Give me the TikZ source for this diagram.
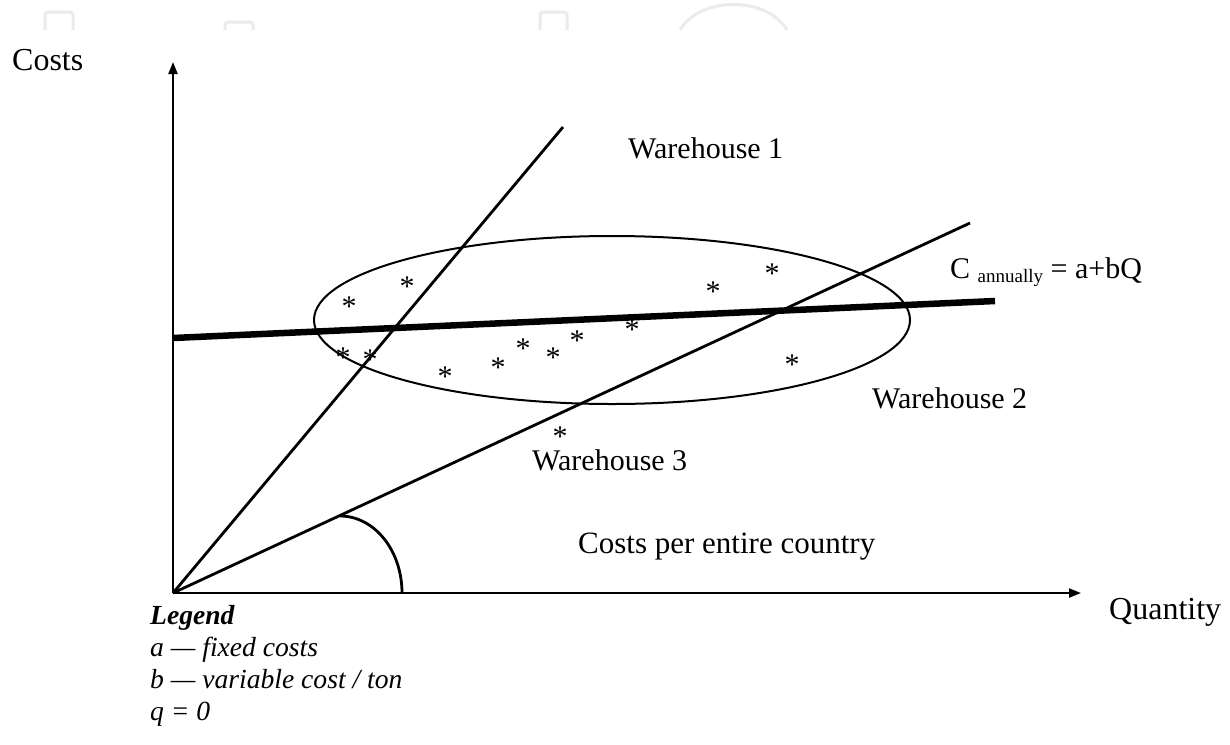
\documentclass[tikz,border=0pt]{standalone}
\usepackage{fontspec}
\setmainfont{Liberation Serif}
\usetikzlibrary{arrows.meta}
\definecolor{faint}{HTML}{EBEBEB}
\begin{document}
\begin{tikzpicture}[x=1pt,y=-1pt,
  axis/.style={line width=2.2pt,-{Triangle[length=12pt,width=9pt]}},
  wline/.style={line width=2.8pt},
  fixline/.style={line width=6.5pt},
  txt/.style={inner sep=0pt,anchor=base west,font=\fontsize{30}{36}\selectfont},
  axlbl/.style={inner sep=0pt,anchor=base west,font=\fontsize{32}{38}\selectfont},
  leg/.style={inner sep=0pt,anchor=base west,font=\fontsize{27.6}{33}\selectfont\itshape},
  datum/.style={inner sep=0pt,anchor=center,font=\fontsize{30}{36}\selectfont}]
\useasboundingbox (0,0) rectangle (1230,744);
\fill[white] (0,0) rectangle (1230,744);

% faint marks along the top edge
\draw[faint,line width=3pt,rounded corners=3pt] (45,30) -- (45,12) -- (73,12) -- (73,30);
\draw[faint,line width=3pt,rounded corners=3pt] (225,30) -- (225,22) -- (253,22) -- (253,30);
\draw[faint,line width=3pt,rounded corners=3pt] (540,30) -- (540,12) -- (567,12) -- (567,30);
\draw[faint,line width=3pt] (680,30) .. controls (700,-4) and (767,-4) .. (787,30);

% axes
\coordinate (O) at (173,593);
\coordinate (ytip) at (173,62);
\coordinate (xtip) at (1081,593);
\draw[axis] (O) -- (ytip);
\draw[axis] (O) -- (xtip);

% cost lines of the warehouses
\coordinate (steepEnd) at (563,127);
\coordinate (shallowEnd) at (970,223);
\coordinate (fixA) at (173,338);
\coordinate (fixB) at (995,301);
\draw[wline] (O) -- (steepEnd);
\draw[wline] (O) -- (shallowEnd);
\draw[fixline] (fixA) -- (fixB);

% cluster of observations
\draw[line width=2pt] (612,320) ellipse [x radius=298pt, y radius=84pt];

% angle mark at the origin
\coordinate (angA) at (340,516);
\coordinate (angB) at (402,593);
\draw[wline] (angA) .. controls (374,516) and (402,550) .. (angB);

% data points (glyph centred on its position, tight box)
\foreach \n/\px/\py in {p1/407/282, p2/349/302, p3/343/353, p4/370/355,
  p5/445/372, p6/498/363, p7/523/344, p8/553/353, p9/577/336, p10/632/325,
  p11/713/287, p12/772/269, p13/792/360, p14/560/432}
  \node[datum] (\n) at (\px,\py) {\raisebox{-0.47em}[0.2em][0.2em]{*}};

% labels
\node[axlbl] (costs) at (12,70) {Costs};
\node[axlbl] (qty) at (1109,619) {Quantity};
\node[txt] (w1) at (628,158) {Warehouse 1};
\node[txt] (w2) at (872,408) {Warehouse 2};
\node[txt] (w3) at (532,470) {Warehouse 3};
\node[txt,font=\fontsize{31}{36}\selectfont] (cpc) at (578,553) {Costs per entire country};
\node[txt] (formula) at (950,278) {C {\fontsize{19}{22}\selectfont\raisebox{-4pt}{annually}} = a+bQ};

% legend
\node[leg,font=\fontsize{27.6}{33}\selectfont\bfseries\itshape] (legT) at (150,624) {Legend};
\node[leg] (legA) at (150,656) {a — fixed costs};
\node[leg] (legB) at (150,688) {b — variable cost / ton};
\node[leg] (legQ) at (150,720) {q = 0};
\end{tikzpicture}
\end{document}
